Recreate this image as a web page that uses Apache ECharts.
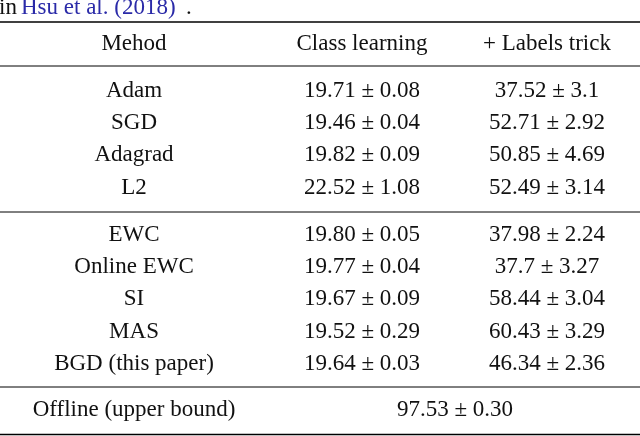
<!DOCTYPE html>
<html><head><meta charset="utf-8">
<script src="https://cdn.jsdelivr.net/npm/echarts@6/dist/echarts.min.js"></script>
<style>html,body{margin:0;padding:0;background:#fff}#c{width:640px;height:436px}</style>
</head><body><div id="c"></div>
<script>
var headers = ['Mehod', 'Class learning', '+ Labels trick'];
var methods1 = ['Adam', 'SGD', 'Adagrad', 'L2'];
var class1 = ['19.71 ± 0.08', '19.46 ± 0.04', '19.82 ± 0.09', '22.52 ± 1.08'];
var trick1 = ['37.52 ± 3.1', '52.71 ± 2.92', '50.85 ± 4.69', '52.49 ± 3.14'];
var methods2 = ['EWC', 'Online EWC', 'SI', 'MAS', 'BGD (this paper)'];
var class2 = ['19.80 ± 0.05', '19.77 ± 0.04', '19.67 ± 0.09', '19.52 ± 0.29', '19.64 ± 0.03'];
var trick2 = ['37.98 ± 2.24', '37.7 ± 3.27', '58.44 ± 3.04', '60.43 ± 3.29', '46.34 ± 2.36'];
var offlineLabel = 'Offline (upper bound)';
var offlineValue = '97.53 ± 0.30';

var colX = [134, 362, 547];
var els = [];
function base(s, x, y, color, align) {
  return {type: 'text', style: {text: s, x: x, y: y, fontFamily: 'Liberation Serif', fontSize: 23,
    fill: color || '#111', align: align || 'center', verticalAlign: 'middle'}};
}
function txt(s, x, y, color) { els.push(base(s, x, y, color)); }
function rule(y, w) {
  els.push({type: 'line', shape: {x1: 0, y1: y, x2: 640, y2: y}, style: {stroke: '#000', lineWidth: w}});
}
els.push(base('in', -1, 8, '#111', 'left'));
els.push(base('Hsu et al. (2018)', 21, 8, '#2a2aa8', 'left'));
els.push(base('.', 186, 8, '#111', 'left'));
rule(22, 1.6);
headers.forEach(function (h, i) { txt(h, colX[i], 44); });
rule(66, 1);
var rowH = 32.2;
methods1.forEach(function (m, i) {
  var y = 91 + i * rowH;
  txt(m, colX[0], y); txt(class1[i], colX[1], y); txt(trick1[i], colX[2], y);
});
rule(212, 1);
methods2.forEach(function (m, i) {
  var y = 235 + i * rowH;
  txt(m, colX[0], y); txt(class2[i], colX[1], y); txt(trick2[i], colX[2], y);
});
rule(387, 1);
txt(offlineLabel, colX[0], 410);
txt(offlineValue, 455, 410);
rule(434.5, 1.6);

var chart = echarts.init(document.getElementById('c'));
chart.setOption({graphic: {elements: els}});
</script></body></html>
